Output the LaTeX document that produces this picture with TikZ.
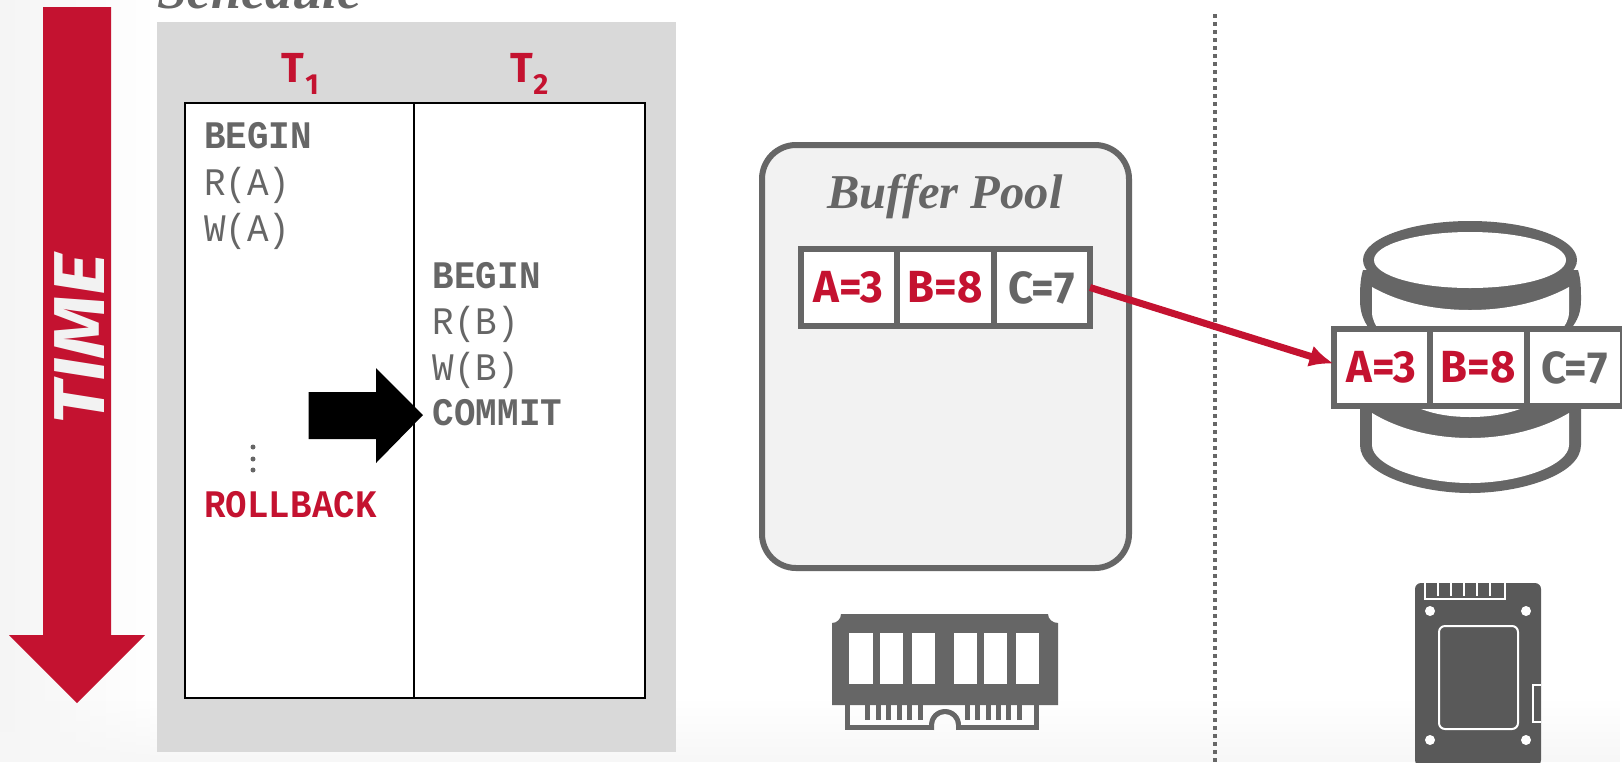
\documentclass[tikz,border=0pt]{standalone}
\usepackage{fontspec}
\usepackage{tikz}
\usetikzlibrary{arrows.meta,fadings}
\newfontfamily\sqllight[FakeStretch=.92]{Liberation Mono}
\newfontfamily\sqlbold[FakeStretch=.92]{Liberation Mono Bold}
\newfontfamily\labelfont{Fira Sans}
\newfontfamily\timefont[FakeStretch=1.12]{Fira Sans}
\newfontfamily\cellfont[FakeStretch=.97]{Fira Sans}
\newfontfamily\titlefont{Liberation Serif}
\definecolor{dbred}{HTML}{C41230}
\definecolor{dbgray}{HTML}{666666}
\tikzset{
  sqltext/.style={anchor=base west, inner sep=0pt, text=dbgray},
  sqllit/.style={sqltext, font=\sqllight\fontsize{19.5}{20}\selectfont},
  sqlkey/.style={sqltext, font=\sqlbold\fontsize{19.5}{20}\selectfont},
  celltext/.style={draw=dbgray, line width=3pt, fill=white, inner sep=0pt, outer sep=0pt,
    minimum width=48.25pt, minimum height=38.5pt, font=\cellfont\bfseries\fontsize{22.5}{24}\selectfont},
  txnname/.style={anchor=base west, inner sep=0pt, text=dbred, font=\labelfont\bfseries\fontsize{21}{24}\selectfont},
  txnsub/.style={anchor=base west, inner sep=0pt, text=dbred, font=\labelfont\bfseries\fontsize{14.5}{16}\selectfont},
}
\begin{document}
\begin{tikzpicture}[x=.5pt, y=-.5pt]
\useasboundingbox (0,0) rectangle (1622,762);
\clip (0,0) rectangle (1622,762);
\fill[white] (0,0) rectangle (1622,762);
\fill[black!4, path fading=east] (0,0) rectangle (150,762);
\fill[black!3, path fading=north] (0,700) rectangle (1622,762);

% time arrow
\fill[dbred] (43,7) -- (111,7) -- (111,635) -- (145,635) -- (77,703) -- (9,635) -- (43,635) -- cycle;
\node (time) at (104,339) [anchor=base, rotate=90, inner sep=0pt, text=black!5, font=\timefont\bfseries\itshape\fontsize{36}{38}\selectfont] {TIME};

% schedule
\node (schedule) at (157,8) [anchor=base west, inner sep=0pt, text=dbgray, font=\titlefont\bfseries\itshape\fontsize{27}{30}\selectfont] {Schedule};
\fill[black!15] (157,22) rectangle (676,752);
\node (t1) at (281,82) [txnname] {T};
\node (t1sub) at (305,94) [txnsub] {1};
\node (t2) at (510,82) [txnname] {T};
\node (t2sub) at (533,94) [txnsub] {2};
\draw[line width=1pt, fill=white] (185,103) rectangle (645,698);
\draw[line width=1pt] (414,103) -- (414,698);

\node (begina) at (204,148) [sqlkey] {BEGIN};
\node (reada) at (204,195) [sqllit] {R(A)};
\node (writea) at (204,241) [sqllit] {W(A)};
\foreach \doty in {447,459,470}
  \fill[dbgray] (253,\doty) circle (2.5);
\node (rollback) at (204,517) [sqlkey, text=dbred] {ROLLBACK};

\node (beginb) at (432.5,288) [sqlkey] {BEGIN};
\node (readb) at (432.5,334) [sqllit] {R(B)};
\node (writeb) at (432.5,380) [sqllit] {W(B)};
\node (commit) at (432.5,425) [sqlkey] {COMMIT};

% pointer
\fill[black] (308.5,392) -- (376,392) -- (376,368) -- (423,415) -- (376,463) -- (376,439) -- (308.5,439) -- cycle;

% buffer pool
\draw[dbgray, line width=3pt, fill=black!5, rounded corners=17pt] (762,145) rectangle (1129,568);
\node (pooltitle) at (945,208) [anchor=base, inner sep=0pt, text=dbgray, font=\titlefont\bfseries\itshape\fontsize{24.3}{26}\selectfont] {Buffer Pool};
\node (poola) at (848.75,287.5) [celltext, text=dbred] {A=3};
\node (poolb) at (945.25,287.5) [celltext, text=dbred] {B=8};
\node (poolc) at (1041.75,287.5) [celltext, text=dbgray] {C=7};

% memory stick
\fill[dbgray] (841,614) -- (1048,614) arc (180:90:10 and 9) -- (1058,705) -- (832,705) -- (832,623) arc (90:0:9 and 9) -- cycle;
\foreach \holex/\holew in {849/24,880/23,912/23,954/23,984/23,1016/23}
  \fill[white] (\holex,633) rectangle ++(\holew,51);
\draw[dbgray, line width=2.3pt] (847.3,705) -- (847.3,727.7) -- (934,727.7) (956,727.7) -- (1036.7,727.7) -- (1036.7,705);
\foreach \pinx in {865,876,886,897,907,918,965,975,986,996,1006,1017}
  \fill[dbgray] (\pinx,705) rectangle ++(5,15);
\fill[dbgray] (929,725) arc (180:360:16 and 16) -- (956,730) -- (956,725) arc (360:180:11 and 11) -- (934,730) -- (929,725) -- cycle;

% divider
\draw[dbgray, line width=2pt, dash pattern=on 2pt off 2pt] (1215,14) -- (1215,762);

% disk
\fill[dbgray] (1363,270) .. controls (1360,280) and (1360,290) .. (1360,300) .. controls (1360,312) and (1363,320) .. (1370,330) -- (1570,330) .. controls (1578,320) and (1581,312) .. (1581,300) .. controls (1581,290) and (1581,280) .. (1578,270) -- cycle;
\fill[dbgray] (1470,260) ellipse (107 and 39);
\fill[white] (1470,260) ellipse (96 and 28);
\fill[white] (1372,287) .. controls (1400,303) and (1435,310) .. (1470,310) .. controls (1505,310) and (1540,303) .. (1569,287) -- (1569,312) .. controls (1569,320) and (1565,326) .. (1560,332) -- (1380,332) .. controls (1376,326) and (1372,320) .. (1372,312) -- cycle;
\fill[dbgray] (1360,405) -- (1360,445) .. controls (1360,475) and (1420,493) .. (1470,493) .. controls (1520,493) and (1581,475) .. (1581,445) -- (1581,405) -- cycle;
\fill[white] (1372,413) .. controls (1400,430) and (1435,438) .. (1470,438) .. controls (1505,438) and (1540,430) .. (1569,413) -- (1569,445) .. controls (1569,465) and (1520,483) .. (1470,483) .. controls (1420,483) and (1372,465) .. (1372,445) -- cycle;
\fill[white] (1412,405) .. controls (1430,414) and (1450,417) .. (1470,417) .. controls (1490,417) and (1510,414) .. (1530,405) -- cycle;
\node (diska) at (1381.75,367.5) [celltext, text=dbred] {A=3};
\node (diskb) at (1478.25,367.5) [celltext, text=dbred] {B=8};
\node (diskc) at (1574.75,367.5) [celltext, text=dbgray] {C=7};

% flush arrow
\draw[dbred, line width=3.5pt, -{Latex[length=12pt,width=11pt]}] (poolc.east) -- ([yshift=2pt]diska.west);

% ssd
\fill[black!65, rounded corners=3pt] (1415,583) rectangle (1541,766);
\draw[white, line width=1pt] (1425,583) -- (1425,599) -- (1505,599) -- (1505,583);
\foreach \slotx in {1438,1451,1464,1477,1490}
  \draw[white, line width=1pt] (\slotx,583) -- (\slotx,596);
\fill[white] (1430,611) circle (5) (1526,611) circle (5) (1430,740) circle (5) (1526,740) circle (5);
\draw[white, line width=1pt, rounded corners=3pt] (1439,626) rectangle (1518,729);
\draw[white, line width=1pt] (1541,685) -- (1533,685) -- (1533,722) -- (1541,722);
\end{tikzpicture}
\end{document}
